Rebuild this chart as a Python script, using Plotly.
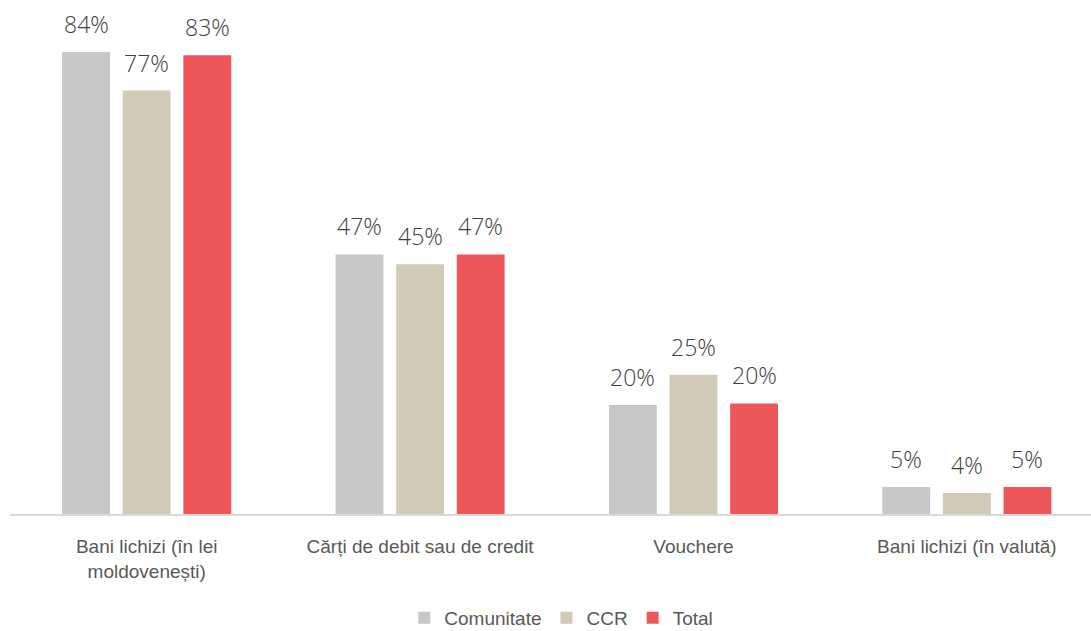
import plotly.graph_objects as go

categories = ["Bani lichizi (în lei<br>moldovenești)", "Cărți de debit sau de credit", "Vouchere", "Bani lichizi (în valută)"]
series_names = ["Comunitate", "CCR", "Total"]
comunitate = [84.0, 47.2, 19.8, 4.9]
ccr = [77.0, 45.4, 25.3, 3.8]
total = [83.4, 47.2, 20.1, 4.9]
colors = ["#C6C7C9", "#D2CAB7", "#EE575A"]

series_values = [comunitate, ccr, total]
BARGAP = 0.335
BARGROUPGAP = 0.21
SANS = "Liberation Sans, Arial, sans-serif"

fig = go.Figure()
for name, vals, col in zip(series_names, series_values, colors):
    fig.add_trace(go.Bar(
        x=list(range(len(categories))), y=vals, name=name,
        marker=dict(color=col, line=dict(width=0)),
        hoverinfo="skip",
    ))

slot = (1 - BARGAP) / len(series_names)
annotations = []
for j, vals in enumerate(series_values):
    for i, v in enumerate(vals):
        annotations.append(dict(
            x=i + (j - (len(series_names) - 1) / 2) * slot, y=v,
            xref="x", yref="y", text=f"{v:.0f}%", showarrow=False,
            yanchor="bottom", xanchor="center", yshift=10,
            font=dict(family="Open Sans, Noto Sans, sans-serif", size=23, color="#404040", weight=300),
        ))

fig.update_layout(
    width=1091, height=631,
    margin=dict(l=10, r=0, t=19, b=117, autoexpand=False),
    paper_bgcolor="white", plot_bgcolor="white",
    barmode="group", bargap=BARGAP, bargroupgap=BARGROUPGAP,
    annotations=annotations,
    showlegend=True,
    legend=dict(orientation="h", x=0.51, xanchor="center", y=-0.21, yanchor="middle",
                font=dict(family=SANS, size=19, color="#595959"),
                itemclick=False, itemdoubleclick=False),
    xaxis=dict(
        range=[-0.5, 3.454], tickmode="array",
        tickvals=list(range(len(categories))), ticktext=categories,
        showline=True, linecolor="#D9D9D9", linewidth=2, showgrid=False, zeroline=False,
        ticks="", ticklabelstandoff=14,
        tickfont=dict(family=SANS, size=19, color="#595959"),
    ),
    yaxis=dict(range=[0, 90], visible=False, showgrid=False, zeroline=False),
)

fig.write_html("out.html", config={"displayModeBar": False},
               post_script="document.body.style.margin='0';document.body.style.overflow='hidden';")
